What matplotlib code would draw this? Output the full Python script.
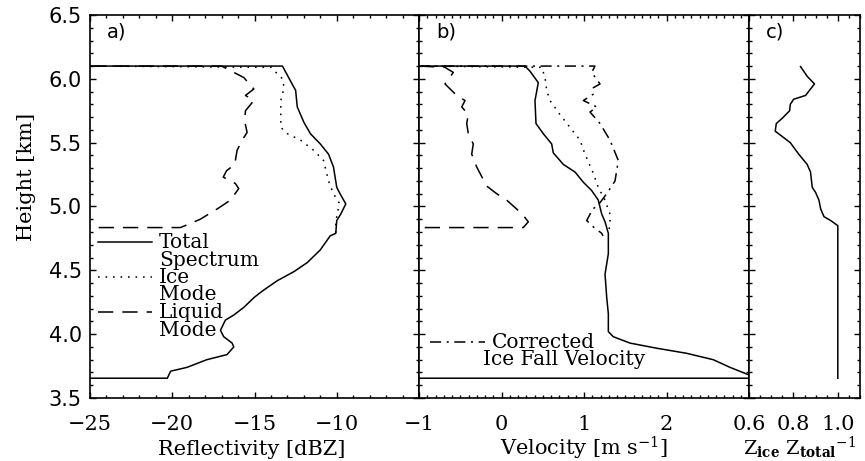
import matplotlib
matplotlib.use('Agg')
import matplotlib.pyplot as plt
from matplotlib.ticker import MultipleLocator, FormatStrFormatter

# ---------------- data ----------------
# Panel a: reflectivity [dBZ] vs height [km]
h_total_a = [6.10, 6.10, 5.98, 5.91, 5.78, 5.66, 5.57, 5.49, 5.41, 5.31, 5.15, 5.10,
             5.02, 4.94, 4.89, 4.79, 4.77, 4.66, 4.56, 4.49, 4.42, 4.34, 4.29, 4.21,
             4.15, 4.11, 4.03, 3.98, 3.93, 3.90, 3.84, 3.80, 3.74, 3.71, 3.655, 3.655]
z_total = [-25.0, -13.3, -12.8, -12.5, -12.4, -12.0, -11.6, -11.0, -10.5, -10.2, -10.0, -9.8,
           -9.45, -9.76, -10.0, -10.06, -10.4, -11.0, -11.8, -12.6, -13.6, -14.5, -15.0, -15.65,
           -16.26, -16.77, -17.07, -16.87, -16.36, -16.26, -16.67, -17.9, -19.1, -20.1, -20.3, -25.0]

h_ice_a = [6.10, 6.09, 6.00, 5.93, 5.83, 5.62, 5.57, 5.52, 5.44, 5.36, 5.20, 5.10,
           5.03, 4.94, 4.89, 4.79]
z_ice = [-25.0, -14.0, -13.3, -13.2, -13.4, -13.4, -13.0, -12.2, -11.4, -10.8, -10.5, -10.2,
         -9.86, -9.96, -10.06, -10.06]

h_liq_a = [6.10, 6.10, 6.01, 5.92, 5.87, 5.83, 5.75, 5.67, 5.58, 5.52, 5.44, 5.33,
           5.28, 5.23, 5.18, 5.14, 5.05, 4.98, 4.90, 4.835, 4.835]
z_liq = [-25.0, -17.0, -15.65, -15.04, -15.55, -15.04, -15.55, -15.6, -15.45, -15.75, -16.06, -16.2,
         -16.7, -16.9, -16.16, -15.96, -16.46, -17.28, -18.3, -19.5, -25.0]

# Panel b: velocity [m s-1] vs height [km]
h_total_b = [6.10, 6.10, 6.06, 5.97, 5.83, 5.65, 5.57, 5.49, 5.42, 5.33, 5.27, 5.19,
             5.125, 5.05, 4.94, 4.88, 4.79, 4.63, 4.47, 4.29, 4.16, 4.02, 3.98, 3.93,
             3.89, 3.85, 3.80, 3.74, 3.655, 3.655]
v_total = [-1.0, 0.285, 0.345, 0.446, 0.406, 0.418, 0.507, 0.608, 0.628, 0.749, 0.891, 0.992,
           1.093, 1.173, 1.215, 1.255, 1.295, 1.295, 1.255, 1.275, 1.295, 1.295, 1.355, 1.558,
           1.881, 2.245, 2.567, 2.770, 3.10, -1.0]

h_ice_b = [6.10, 6.09, 6.01, 5.91, 5.83, 5.72, 5.62, 5.52, 5.41, 5.26, 5.15, 5.05,
           4.94, 4.86, 4.79]
v_ice = [-1.0, 0.487, 0.527, 0.548, 0.588, 0.709, 0.830, 0.952, 1.012, 1.113, 1.173, 1.255,
         1.315, 1.315, 1.295]

h_liq_b = [6.10, 6.09, 6.05, 5.96, 5.87, 5.83, 5.78, 5.72, 5.65, 5.57, 5.49, 5.41,
           5.31, 5.16, 5.10, 5.05, 4.98, 4.93, 4.88, 4.835, 4.835]
v_liq = [-1.0, -0.685, -0.584, -0.685, -0.543, -0.442, -0.482, -0.402, -0.422, -0.402, -0.342, -0.361,
         -0.301, -0.179, -0.058, 0.063, 0.184, 0.264, 0.325, 0.264, -1.0]

h_corr = [6.10, 6.10, 6.05, 5.96, 5.93, 5.88, 5.83, 5.78, 5.74, 5.65, 5.52, 5.36,
          5.20, 5.10, 5.03, 4.97, 4.94, 4.89, 4.84, 4.79, 4.77]
v_corr = [-1.0, 1.133, 1.093, 1.194, 1.113, 1.113, 0.992, 1.154, 1.073, 1.194, 1.315, 1.416,
          1.376, 1.275, 1.194, 1.093, 1.073, 1.033, 1.113, 1.215, 1.23]

# Panel c: Z_ice / Z_total vs height [km]
h_ratio = [6.096, 6.02, 5.96, 5.92, 5.87, 5.84, 5.80, 5.75, 5.69, 5.65, 5.59, 5.54,
           5.50, 5.41, 5.33, 5.27, 5.15, 5.11, 5.05, 4.98, 4.92, 4.89, 4.85, 3.655]
ratio = [0.832, 0.862, 0.895, 0.877, 0.855, 0.801, 0.786, 0.783, 0.749, 0.723, 0.718, 0.756,
         0.786, 0.824, 0.862, 0.877, 0.885, 0.900, 0.915, 0.923, 0.938, 0.968, 1.0, 1.0]

xticks_a = [-25, -20, -15, -10, -5]
xticklabels_a = ['\u221225', '\u221220', '\u221215', '\u221210', '']
xticks_b = [-1, 0, 1, 2, 3]
xticklabels_b = ['\u22121', '0', '1', '2', '']
xticks_c = [0.6, 0.8, 1.0]
xticklabels_c = ['0.6', '0.8', '1.0']

# ---------------- figure ----------------
plt.rcParams['font.family'] = ['DejaVu Serif']
plt.rcParams['mathtext.fontset'] = 'dejavuserif'
plt.rcParams['lines.scale_dashes'] = False

W, H = 865, 461
fig = plt.figure(figsize=(W / 100, H / 100), dpi=100)


def rect(x0, x1, y0=15, y1=398):
    return [x0 / W, 1 - y1 / H, (x1 - x0) / W, (y1 - y0) / H]


axA = fig.add_axes(rect(90, 419))
axB = fig.add_axes(rect(419, 749))
axC = fig.add_axes(rect(749, 860))

LW = 1.1
DASH = (0, (11, 6.5))
DOT = (0, (1.2, 4.2))
DASHDOT = (0, (8, 4, 1.5, 4))

for ax in (axA, axB, axC):
    ax.set_ylim(3.5, 6.5)
    ax.yaxis.set_major_locator(MultipleLocator(0.5))
    ax.yaxis.set_minor_locator(MultipleLocator(0.1))
    ax.tick_params(which='both', direction='in', top=True, right=True, width=1.0)
    ax.tick_params(which='major', length=4.5)
    ax.tick_params(which='minor', length=2.3)
    ax.tick_params(axis='x', labelsize=15, pad=12.5)
    for s in ax.spines.values():
        s.set_linewidth(1.2)

# panel a
axA.plot(z_total, h_total_a, color='black', lw=LW, ls='-')
axA.plot(z_ice, h_ice_a, color='black', lw=LW, ls=DOT)
axA.plot(z_liq, h_liq_a, color='black', lw=LW, ls=DASH)
axA.set_xlim(-25, -5)
axA.set_xticks(xticks_a)
axA.set_xticklabels(xticklabels_a, family='DejaVu Serif')
axA.xaxis.set_minor_locator(MultipleLocator(1))
axA.yaxis.set_major_formatter(FormatStrFormatter('%.1f'))
axA.tick_params(axis='y', labelsize=15, pad=6, labelfontfamily='DejaVu Sans')

# panel b
axB.plot(v_total, h_total_b, color='black', lw=LW, ls='-')
axB.plot(v_ice, h_ice_b, color='black', lw=LW, ls=DOT)
axB.plot(v_liq, h_liq_b, color='black', lw=LW, ls=DASH)
axB.plot(v_corr, h_corr, color='black', lw=LW, ls=DASHDOT)
axB.set_xlim(-1, 3)
axB.set_xticks(xticks_b)
axB.set_xticklabels(xticklabels_b, family='DejaVu Serif')
axB.xaxis.set_minor_locator(MultipleLocator(0.1))
axB.tick_params(axis='y', labelleft=False)

# panel c
axC.plot(ratio, h_ratio, color='black', lw=LW, ls='-')
axC.set_xlim(0.6, 1.1)
axC.set_xticks(xticks_c)
axC.set_xticklabels(xticklabels_c, family='DejaVu Serif')
axC.xaxis.set_minor_locator(MultipleLocator(0.05))
axC.tick_params(axis='y', labelleft=False)


def ftext(x, y, s, **kw):
    fig.text(x / W, 1 - y / H, s, **kw)


# panel letters
ftext(107, 38, 'a)', family='DejaVu Sans', fontsize=14, va='baseline')
ftext(436, 38, 'b)', family='DejaVu Sans', fontsize=14, va='baseline')
ftext(766, 38, 'c)', family='DejaVu Sans', fontsize=14, va='baseline')

# axis labels
ftext(27, 177, 'Height [km]', rotation=90, fontsize=15, ha='center', va='center')
ftext(252, 455, 'Reflectivity [dBZ]', fontsize=15, ha='center', va='baseline')
ftext(584, 455, r'Velocity [m s$^{-1}$]', fontsize=15, ha='center', va='baseline')
ftext(799, 455, r'Z$_{\mathbf{ice}}$ Z$_{\mathbf{total}}$$^{-1}$', fontsize=14,
      ha='center', va='baseline')


# legend keys
def fline(ax, x0, x1, y, ls, x_left, x_width):
    ax.plot([(x0 - x_left) / x_width, (x1 - x_left) / x_width],
            [(398 - y) / 383, (398 - y) / 383], transform=ax.transAxes,
            color='black', lw=LW, ls=ls, clip_on=False)


fline(axA, 98, 152, 242, '-', 90, 329)
fline(axA, 98, 152, 277, DOT, 90, 329)
fline(axA, 98, 152, 312, DASH, 90, 329)
leg_lines = [('Total', 248), ('Spectrum', 265.5), ('Ice', 283), ('Mode', 300.5),
             ('Liquid', 318), ('Mode', 335.5)]
for s, yb in leg_lines:
    ftext(159, yb, s, fontsize=14.5, va='baseline')

fline(axB, 430, 485, 342, DASHDOT, 419, 330)
ftext(492, 347.5, 'Corrected', fontsize=14.5, va='baseline')
ftext(483, 365, 'Ice Fall Velocity', fontsize=14.5, va='baseline')

fig.savefig('out.png', dpi=100)
